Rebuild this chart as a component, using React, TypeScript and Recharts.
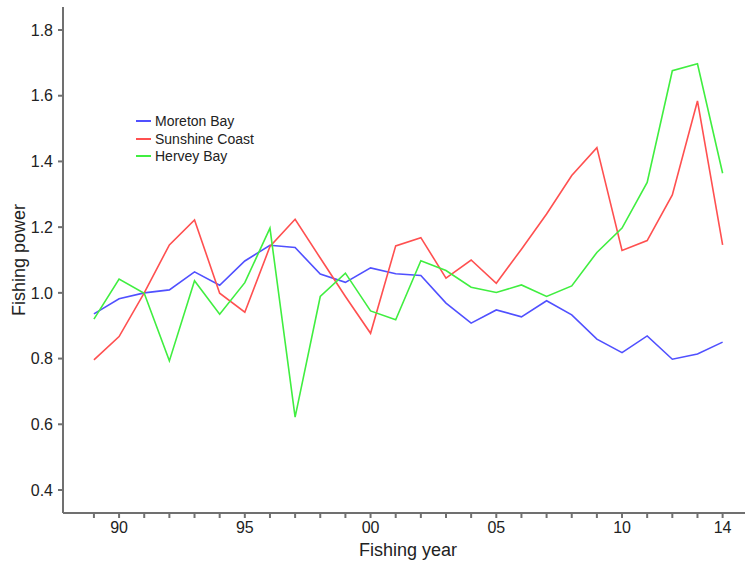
import { LineChart, Line, XAxis, YAxis, Legend } from "recharts";

const years = [
  1989, 1990, 1991, 1992, 1993, 1994, 1995, 1996, 1997, 1998, 1999, 2000, 2001,
  2002, 2003, 2004, 2005, 2006, 2007, 2008, 2009, 2010, 2011, 2012, 2013, 2014,
];

const moretonBay = [
  0.936, 0.982, 1.0, 1.009, 1.064, 1.023, 1.097, 1.145, 1.138, 1.057, 1.032,
  1.076, 1.058, 1.053, 0.969, 0.908, 0.948, 0.927, 0.976, 0.933, 0.859, 0.818,
  0.869, 0.798, 0.814, 0.85,
];

const sunshineCoast = [
  0.796, 0.867, 1.0, 1.146, 1.222, 0.999, 0.941, 1.141, 1.224, 1.106, 0.989,
  0.877, 1.143, 1.168, 1.045, 1.1, 1.029, 1.133, 1.24, 1.357, 1.442, 1.129,
  1.159, 1.298, 1.584, 1.146,
];

const herveyBay = [
  0.92, 1.042, 0.999, 0.793, 1.037, 0.935, 1.031, 1.197, 0.622, 0.989, 1.06,
  0.945, 0.918, 1.098, 1.068, 1.017, 1.001, 1.024, 0.989, 1.021, 1.123, 1.197,
  1.336, 1.676, 1.697, 1.364,
];

// labelled years on the x axis, every other year gets a bare tick
const xTickLabels: Record<number, string> = {
  1990: "90",
  1995: "95",
  2000: "00",
  2005: "05",
  2010: "10",
  2014: "14",
};

const yTicks = [0.4, 0.6, 0.8, 1.0, 1.2, 1.4, 1.6, 1.8];

const series = [
  { key: "moreton", name: "Moreton Bay", color: "#5050ff" },
  { key: "sunshine", name: "Sunshine Coast", color: "#ff5050" },
  { key: "hervey", name: "Hervey Bay", color: "#40ee40" },
];

const data = years.map((year, i) => ({
  year,
  moreton: moretonBay[i],
  sunshine: sunshineCoast[i],
  hervey: herveyBay[i],
}));

const axisColor = "#707070";
const font = "'Liberation Sans', Arial, sans-serif";

const renderLegend = () => (
  <div style={{ fontFamily: font, fontSize: 14, color: "#222" }}>
    {series.map((s) => (
      <div
        key={s.key}
        style={{ display: "flex", alignItems: "center", height: 17.7 }}
      >
        <span
          style={{
            display: "inline-block",
            width: 15,
            height: 2,
            background: s.color,
            marginRight: 4,
          }}
        />
        <span>{s.name}</span>
      </div>
    ))}
  </div>
);

export default function App() {
  return (
    <div
      style={{
        position: "absolute",
        left: 0,
        top: 0,
        width: 745,
        height: 563,
        background: "#fff",
      }}
    >
      <LineChart
        width={745}
        height={563}
        data={data}
        margin={{ top: 7, right: 0, bottom: 20, left: 3 }}
      >
        <XAxis
          dataKey="year"
          type="number"
          domain={[1987.77, 2014.89]}
          allowDataOverflow
          ticks={years}
          interval={0}
          tickFormatter={(v: number) => xTickLabels[v] ?? ""}
          height={30}
          tickSize={5}
          tickMargin={4}
          stroke={axisColor}
          strokeWidth={2}
          tick={{ fill: "#222", fontSize: 16, fontFamily: font }}
          label={{
            value: "Fishing year",
            position: "center",
            dx: 4,
            dy: 22,
            fill: "#222",
            fontSize: 18,
            fontFamily: font,
          }}
        />
        <YAxis
          type="number"
          domain={[0.33, 1.87]}
          allowDataOverflow
          ticks={yTicks}
          interval={0}
          tickFormatter={(v: number) => v.toFixed(1)}
          width={60}
          tickSize={5}
          tickMargin={5}
          stroke={axisColor}
          strokeWidth={2}
          tick={{ fill: "#222", fontSize: 16, fontFamily: font }}
          label={{
            value: "Fishing power",
            angle: -90,
            position: "center",
            dx: -14,
            fill: "#222",
            fontSize: 18,
            fontFamily: font,
          }}
        />
        <Legend
          content={renderLegend}
          layout="vertical"
          align="center"
          verticalAlign="middle"
          wrapperStyle={{ left: 136, top: 112, width: 140 }}
        />
        {series.map((s) => (
          <Line
            key={s.key}
            type="linear"
            dataKey={s.key}
            name={s.name}
            stroke={s.color}
            strokeWidth={1.6}
            dot={false}
            isAnimationActive={false}
          />
        ))}
      </LineChart>
    </div>
  );
}
